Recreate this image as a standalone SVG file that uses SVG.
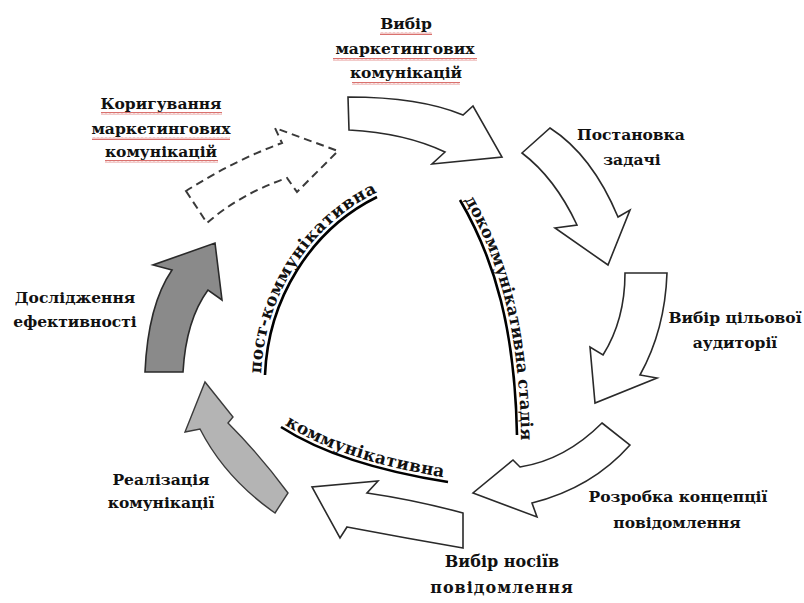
<svg xmlns="http://www.w3.org/2000/svg" width="804" height="603" viewBox="0 0 804 603">
<style>
  .lbl { font-family: "DejaVu Serif", "Liberation Serif", serif; font-weight: bold; font-size: 15.5px; fill: #111; text-anchor: middle; }
  .big { font-size: 16px; }
  .arc { font-family: "DejaVu Serif", "Liberation Serif", serif; font-weight: bold; font-size: 17px; fill: #111; }
  .white { fill: #fff; stroke: #2a2a2a; stroke-width: 1.6; stroke-linejoin: miter; }
  .dark { fill: #8a8a8a; stroke: #2a2a2a; stroke-width: 1.6; }
  .light { fill: #b4b4b4; stroke: #3a3a3a; stroke-width: 1.4; }
  .dash { fill: none; stroke: #3a3a3a; stroke-width: 2; stroke-dasharray: 8 5; }
  .uline { fill: none; stroke: #000; stroke-width: 2.6; }
  .wave { fill: url(#wavy); }
</style>
<defs>
  <pattern id="wavy" width="4" height="3" patternUnits="userSpaceOnUse">
    <path d="M0,2.4 L1,0.6 L2,2.4 L3,0.6 L4,2.4" fill="none" stroke="#c8322e" stroke-width="0.7"/>
  </pattern>
  <path id="pPost" d="M265,375 C268,300 310,230 377,197"/>
  <path id="pDo" d="M460,200 C495,260 515,330 517,435"/>
  <path id="pKom" d="M281,427 Q340,465 448,482"/>
</defs>
<rect width="804" height="603" fill="#fff"/>

<g id="stage-vybir-marketynhovykh">
  <path class="white" d="M348,97 Q420,97 463,115 L473,106 L502,157 L432,164 L445,152 Q405,133 349,130 Z"/>
  <text class="lbl" x="406" y="29">Вибір</text>
  <text class="lbl" x="405" y="54">маркетингових</text>
  <text class="lbl" x="406" y="78">комунікацій</text>
  <rect class="wave" x="380" y="32" width="52" height="3"/>
  <rect class="wave" x="333" y="58" width="144" height="3"/>
  <rect class="wave" x="352" y="82" width="108" height="3"/>
</g>

<g id="stage-postanovka">
  <path class="white" d="M522,153 L550,128 Q592,155 618,217 L630,210 L608,265 L555,228 L577,225 Q555,178 522,153 Z"/>
  <text class="lbl" x="631" y="140">Постановка</text>
  <text class="lbl" x="632" y="165">задачі</text>
</g>

<g id="stage-auditoriia">
  <path class="white" d="M625,273 L667,273 Q665,330 640,375 L657,378 L595,403 L590,347 L603,355 Q625,320 625,273 Z"/>
  <text class="lbl" x="735" y="323">Вибір цільової</text>
  <text class="lbl" x="735" y="348">аудиторії</text>
</g>

<g id="stage-kontseptsiia">
  <path class="white" d="M602,423 L630,445 Q592,488 532,503 L537,517 L473,493 L513,460 L520,467 Q565,460 602,423 Z"/>
  <text class="lbl" x="678" y="502">Розробка концепції</text>
  <text class="lbl" x="677" y="528">повідомлення</text>
</g>

<g id="stage-nosii">
  <path class="white" d="M463,513 L463,548 Q405,538 347,527 L340,538 L312,487 L378,481 L367,493 Q415,500 463,513 Z"/>
  <text class="lbl big" x="502" y="567">Вибір носіїв</text>
  <text class="lbl big" x="502" y="593" style="letter-spacing:1px">повідомлення</text>
</g>

<g id="stage-realizatsiia">
  <path class="light" d="M275,513 L288,493 Q260,455 228,423 L233,417 L205,382 L185,432 L200,429 Q225,478 275,513 Z"/>
  <text class="lbl" x="161" y="485">Реалізація</text>
  <text class="lbl" x="161" y="508">комунікації</text>
</g>

<g id="stage-doslidzhennia">
  <path class="dark" d="M145,372 L183,372 Q186,320 208,290 L222,300 L215,243 L153,265 L172,270 Q148,305 145,372 Z"/>
  <text class="lbl" x="75" y="303">Дослідження</text>
  <text class="lbl" x="75" y="327">ефективності</text>
</g>

<g id="stage-koryhuvannia">
  <path class="dash" d="M186,191 L207,223 Q240,194 287,178 L297,192 L338,151 L275,128 L282,143 Q235,160 186,191 Z"/>
  <text class="lbl" x="161" y="109">Коригування</text>
  <text class="lbl" x="161" y="134">маркетингових</text>
  <text class="lbl" x="161" y="157">комунікацій</text>
  <rect class="wave" x="101" y="112" width="121" height="3"/>
  <rect class="wave" x="92" y="137" width="138" height="3"/>
  <rect class="wave" x="105" y="160" width="113" height="3"/>
</g>

<g id="phase-post">
  <use href="#pPost" class="uline"/>
  <text class="arc" style="letter-spacing:0.3px"><textPath href="#pPost" startOffset="1"><tspan dy="-4">пост-коммунікативна</tspan></textPath></text>
</g>

<g id="phase-do">
  <use href="#pDo" class="uline"/>
  <text class="arc" style="font-size:16.5px"><textPath href="#pDo" startOffset="2"><tspan dy="-4">докоммунікативна стадія</tspan></textPath></text>
</g>

<g id="phase-kom">
  <use href="#pKom" class="uline"/>
  <text class="arc" style="letter-spacing:0.4px"><textPath href="#pKom" startOffset="2"><tspan dy="-4">коммунікативна</tspan></textPath></text>
</g>

<g id="connectors"></g>
</svg>
